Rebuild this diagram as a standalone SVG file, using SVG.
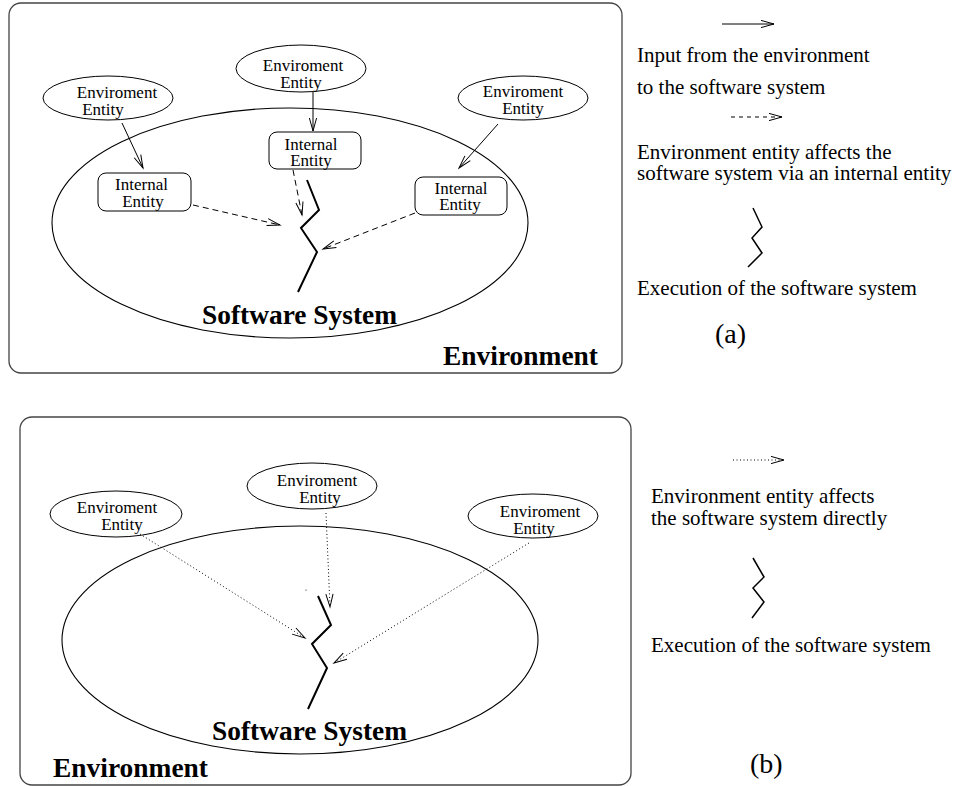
<svg xmlns="http://www.w3.org/2000/svg" width="957" height="786" viewBox="0 0 957 786">
<style>
.panel{fill:none;stroke:#444;stroke-width:1.3}
.big{fill:none;stroke:#000;stroke-width:1.1}
.node{fill:#fff;stroke:#000;stroke-width:1}
.t{font-family:"Liberation Serif","Times New Roman",serif;font-size:17px;fill:#000;text-anchor:middle}
.lg{font-family:"Liberation Serif","Times New Roman",serif;font-size:21px;fill:#000}
.bold{font-family:"Liberation Serif","Times New Roman",serif;font-size:28px;font-weight:bold;fill:#000}
.solid{fill:none;stroke:#000;stroke-width:1;marker-end:url(#ah)}
.dash{fill:none;stroke:#000;stroke-width:1;stroke-dasharray:6 4;marker-end:url(#ah)}
.dot{fill:none;stroke:#000;stroke-width:1;stroke-dasharray:1 2.5;marker-end:url(#ah)}
.zig{fill:none;stroke:#000;stroke-width:2}
.zigl{fill:none;stroke:#000;stroke-width:1.5}
</style>
<defs>
<marker id="ah" markerUnits="userSpaceOnUse" markerWidth="16" markerHeight="10" viewBox="-14 -5 16 10" refX="0" refY="0" orient="auto">
<path d="M-13,-3.6 L0,0 L-13,3.6" fill="none" stroke="#000" stroke-width="1"/>
</marker>
</defs>

<!-- Panel (a) -->
<g id="panel-a">
<rect class="panel" x="9" y="3" width="613" height="370" rx="12" ry="12"/>
<text class="bold" x="443" y="365" textLength="155" lengthAdjust="spacingAndGlyphs">Environment</text>
</g>
<g id="software-a">
<ellipse class="big" cx="290" cy="223" rx="238" ry="115"/>
<text class="bold" x="202" y="324" textLength="195" lengthAdjust="spacingAndGlyphs">Software System</text>
</g>
<g id="env-a1">
<ellipse class="node" cx="108" cy="98" rx="65" ry="22"/>
<text class="t" x="117" y="98">Enviroment</text>
<text class="t" x="103" y="115">Entity</text>
</g>
<g id="env-a2">
<ellipse class="node" cx="301" cy="68.5" rx="65" ry="23.5"/>
<text class="t" x="303" y="71">Enviroment</text>
<text class="t" x="301" y="88">Entity</text>
</g>
<g id="env-a3">
<ellipse class="node" cx="523" cy="98" rx="65" ry="22"/>
<text class="t" x="523" y="97">Enviroment</text>
<text class="t" x="523" y="114">Entity</text>
</g>
<g id="int-a1">
<rect class="node" x="98" y="173" width="93" height="38" rx="8" ry="8"/>
<text class="t" x="141.5" y="190">Internal</text>
<text class="t" x="143" y="207">Entity</text>
</g>
<g id="int-a2">
<rect class="node" x="269" y="132" width="92" height="37" rx="8" ry="8"/>
<text class="t" x="311" y="150">Internal</text>
<text class="t" x="311" y="166">Entity</text>
</g>
<g id="int-a3">
<rect class="node" x="415" y="177" width="92" height="38" rx="8" ry="8"/>
<text class="t" x="461" y="194">Internal</text>
<text class="t" x="460" y="210">Entity</text>
</g>
<g id="exec-a">
<polyline class="zig" points="307,180 319,210 301,228 317,252 298,292"/>
</g>
<g id="connectors-a">
<line class="solid" x1="122" y1="123" x2="143" y2="168"/>
<line class="solid" x1="313" y1="92" x2="313" y2="131"/>
<line class="solid" x1="498" y1="124" x2="459" y2="168"/>
<line class="dash" x1="193" y1="205" x2="280" y2="225"/>
<line class="dash" x1="293" y1="170" x2="302" y2="215"/>
<line class="dash" x1="415" y1="213" x2="323" y2="249"/>
</g>
<g id="legend-a">
<line class="solid" x1="722" y1="24" x2="774" y2="24"/>
<text class="lg" x="637" y="62">Input from the environment</text>
<text class="lg" x="637" y="94">to the software system</text>
<line class="dash" x1="731" y1="117" x2="782" y2="117" style="stroke-dasharray:4 4"/>
<text class="lg" x="637" y="159">Environment entity affects the</text>
<text class="lg" x="637" y="180">software system via an internal entity</text>
<polyline class="zigl" points="753,208 762,227 752,238 762,253 748,267"/>
<text class="lg" x="637" y="295">Execution of the software system</text>
<text class="lg" x="715" y="343" style="font-size:28px">(a)</text>
</g>

<!-- Panel (b) -->
<g id="panel-b">
<rect class="panel" x="20" y="417" width="611" height="368" rx="12" ry="12"/>
<text class="bold" x="53" y="777" textLength="155" lengthAdjust="spacingAndGlyphs">Environment</text>
</g>
<g id="software-b">
<ellipse class="big" cx="300" cy="640" rx="238" ry="114"/>
<text class="bold" x="212" y="740" textLength="195" lengthAdjust="spacingAndGlyphs">Software System</text>
</g>
<g id="env-b1">
<ellipse class="node" cx="116" cy="514" rx="66" ry="23"/>
<text class="t" x="117" y="513">Enviroment</text>
<text class="t" x="122" y="530">Entity</text>
</g>
<g id="env-b2">
<ellipse class="node" cx="312" cy="486" rx="65" ry="23"/>
<text class="t" x="317" y="486">Enviroment</text>
<text class="t" x="320" y="503">Entity</text>
</g>
<g id="env-b3">
<ellipse class="node" cx="533" cy="516" rx="65" ry="22"/>
<text class="t" x="540" y="517">Enviroment</text>
<text class="t" x="534" y="534">Entity</text>
</g>
<g id="exec-b">
<polyline class="zig" points="318,596 331,625 312,644 327,668 308,709"/>
<circle cx="306" cy="590" r="0.6" fill="#000"/>
</g>
<g id="connectors-b">
<line class="dot" x1="140" y1="534" x2="305" y2="638"/>
<line class="dot" x1="326" y1="513" x2="330" y2="607"/>
<line class="dot" x1="529" y1="543" x2="334" y2="663"/>
</g>
<g id="legend-b">
<line class="dot" x1="733" y1="460" x2="784" y2="460"/>
<text class="lg" x="651" y="503">Environment entity affects</text>
<text class="lg" x="651" y="525">the software system directly</text>
<polyline class="zigl" points="753,558 764,577 753,588 764,602 752,618"/>
<text class="lg" x="651" y="652">Execution of the software system</text>
<text class="lg" x="750" y="773" style="font-size:28px">(b)</text>
</g>
</svg>
